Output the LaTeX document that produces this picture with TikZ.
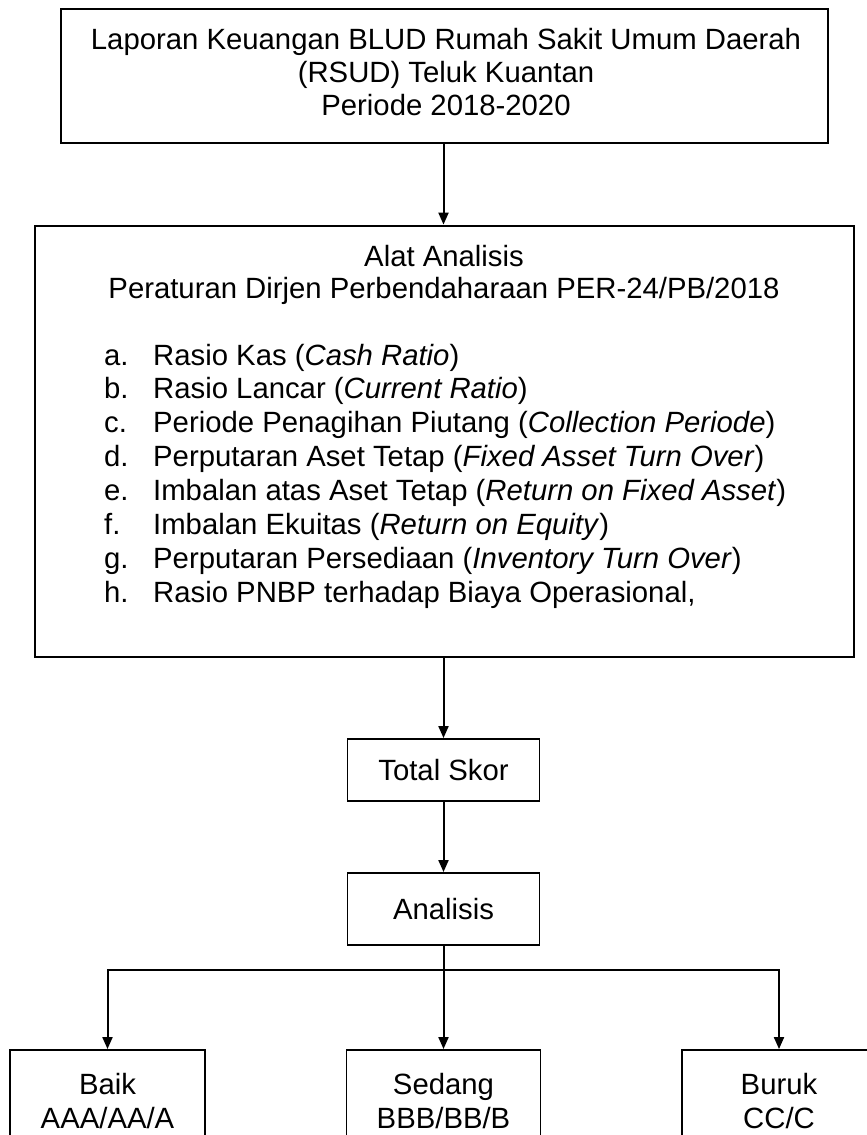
\documentclass[tikz,border=0pt]{standalone}
\usepackage{fontspec}
\setmainfont{Liberation Sans}
\usetikzlibrary{arrows.meta}
\newcommand{\lbl}[2]{\makebox[49pt][l]{#1}#2}
\begin{document}
\begin{tikzpicture}[x=1pt,y=-1pt,
  bigbox/.style={draw, line width=2.8pt, inner sep=0pt},
  smallbox/.style={draw, line width=1.9pt, inner sep=0pt, align=center,
    font=\fontsize{29.3}{33.9}\selectfont},
  txt/.style={inner sep=0pt, font=\fontsize{29.3}{33.9}\selectfont},
  arr/.style={line width=2pt, -{Triangle[length=12pt,width=10pt]}}]
\clip (0,0) rectangle (867,1135);
\fill[white] (0,0) rectangle (867,1135);

% top box
\node[bigbox, minimum width=767pt, minimum height=134pt] (rep) at (444.5,76) {};
\node[txt, anchor=base] (rep1) at (446,49) {Laporan Keuangan BLUD Rumah Sakit Umum Daerah};
\node[txt, anchor=base] (rep2) at (446,82) {(RSUD) Teluk Kuantan};
\node[txt, anchor=base] (rep3) at (446,115) {Periode 2018-2020};

% analysis tools box
\node[bigbox, minimum width=819pt, minimum height=431pt] (alat) at (444.5,441.5) {};
\node[txt, anchor=base] (h1) at (444,266) {Alat Analisis};
\node[txt, anchor=base] (h2) at (444,298) {Peraturan Dirjen Perbendaharaan PER-24/PB/2018};
\node[txt, anchor=base west] (ia) at (104,365) {\lbl{a.}{Rasio Kas (\textit{Cash Ratio})}};
\node[txt, anchor=base west] (ib) at (104,398.9) {\lbl{b.}{Rasio Lancar (\textit{Current Ratio})}};
\node[txt, anchor=base west] (ic) at (104,432.7) {\lbl{c.}{Periode Penagihan Piutang (\textit{Collection Periode})}};
\node[txt, anchor=base west] (id) at (104,466.6) {\lbl{d.}{Perputaran Aset Tetap (\textit{Fixed Asset Turn Over})}};
\node[txt, anchor=base west] (ie) at (104,500.4) {\lbl{e.}{Imbalan atas Aset Tetap (\textit{Return on Fixed Asset})}};
\node[txt, anchor=base west] (if) at (104,534.3) {\lbl{f.}{Imbalan Ekuitas (\textit{Return on Equity})}};
\node[txt, anchor=base west] (ig) at (104,568.1) {\lbl{g.}{Perputaran Persediaan (\textit{Inventory Turn Over})}};
\node[txt, anchor=base west] (ih) at (104,602) {\lbl{h.}{Rasio PNBP terhadap Biaya Operasional,}};

% score and analysis
\node[smallbox, minimum width=192pt, minimum height=62pt] (total) at (443.5,770) {Total Skor};
\node[smallbox, minimum width=192pt, minimum height=72pt] (anal) at (443.5,909) {Analisis};

% result boxes
\node[smallbox, minimum width=195pt, minimum height=102pt] (baik) at (107.5,1101) {Baik\\AAA/AA/A};
\node[smallbox, minimum width=194pt, minimum height=102pt] (sedang) at (443.5,1101) {Sedang\\BBB/BB/B};
\node[smallbox, minimum width=194pt, minimum height=102pt] (buruk) at (779,1101) {Buruk\\CC/C};

% connectors
\draw[arr] (rep.south -| total) -- (alat.north -| total);
\draw[arr] (alat.south -| total) -- (total.north);
\draw[arr] (total.south) -- (anal.north);
\draw[arr] (anal.south) -- (sedang.north);
\coordinate (split) at (443.5,970);
\draw[arr] (split) -| (baik.north);
\draw[arr] (split) -| (buruk.north);
\end{tikzpicture}
\end{document}
